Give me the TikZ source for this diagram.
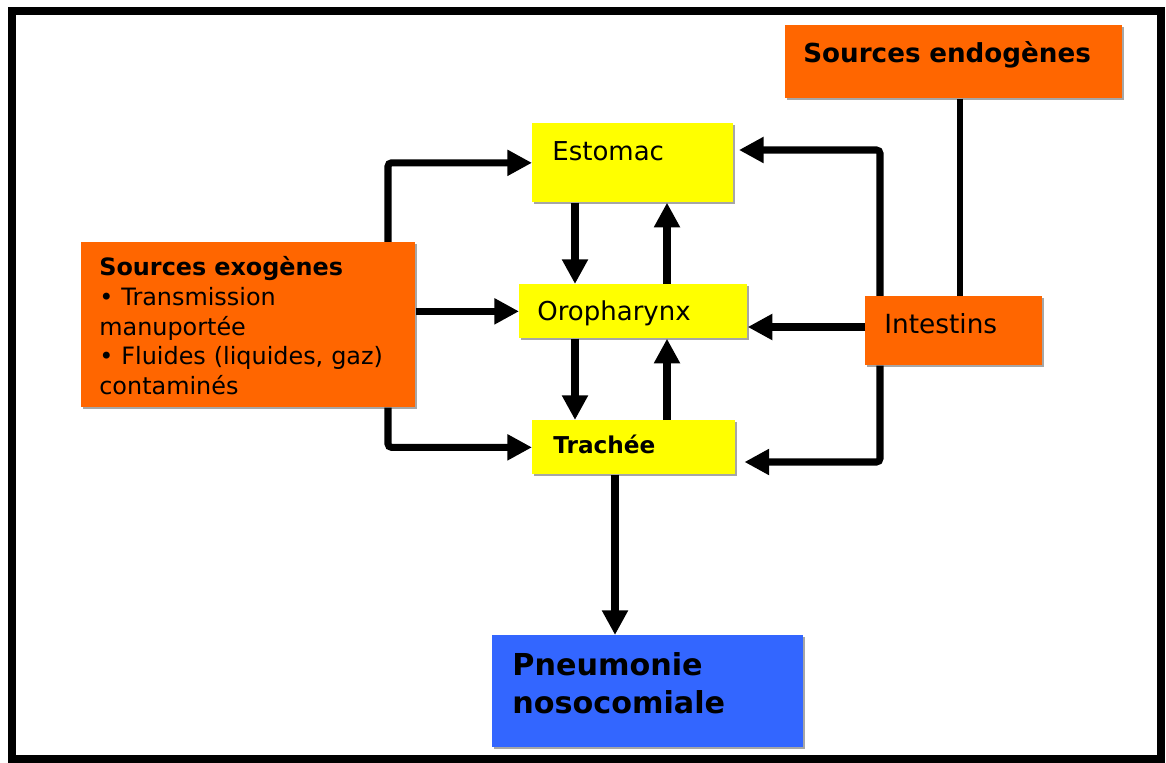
\documentclass[tikz,border=0pt]{standalone}
\usepackage{fontspec}
\setmainfont{DejaVu Sans}
\usepackage{tikz}
\usetikzlibrary{arrows.meta,shadows}

\definecolor{orangebox}{HTML}{FF6600}
\definecolor{yellowbox}{HTML}{FFFF00}
\definecolor{bluebox}{HTML}{3366FF}

\tikzset{
    box/.style={rectangle, anchor=north west, align=left, inner ysep=0pt,
        drop shadow={shadow xshift=1.2pt, shadow yshift=-1.2pt, fill=black, opacity=.35}},
    arr/.style={line width=4pt, rounded corners=2pt, -{Triangle[length=14pt,width=14pt]}},
    link/.style={line width=3pt}
}

\begin{document}
\begin{tikzpicture}[x=0.02cm, y=-0.02cm]
                \useasboundingbox (0,0) rectangle (1166,763);
                \draw[line width=4.5pt] (12,11) rectangle (1161,759);

                % boites
                \node[box, fill=orangebox, inner xsep=0.36cm, text width=6.02cm, text height=0.74cm, text depth=0.72cm,
                      font=\fontsize{14.9}{17}\selectfont\bfseries] (endo) at (785,25) {Sources endogènes};
                \node[box, fill=yellowbox, inner xsep=0.4cm, text width=3.22cm, text height=0.74cm, text depth=0.84cm,
                      font=\fontsize{14.8}{17}\selectfont] (estomac) at (532,123) {Estomac};
                \node[box, fill=yellowbox, inner xsep=0.36cm, text width=3.84cm, text height=0.72cm, text depth=0.36cm,
                      font=\fontsize{14.8}{17}\selectfont] (oro) at (519,284) {Oropharynx};
                \node[box, fill=yellowbox, inner xsep=0.42cm, text width=3.22cm, text height=0.66cm, text depth=0.42cm,
                      font=\fontsize{13.2}{16}\selectfont\bfseries] (trachee) at (532,420) {Trachée};
                \node[box, fill=orangebox, inner xsep=0.38cm, text width=2.78cm, text height=0.74cm, text depth=0.64cm,
                      font=\fontsize{15}{17}\selectfont] (intestins) at (865,296) {Intestins};
                \node[box, fill=orangebox, inner xsep=0.36cm, text width=5.96cm, text height=0.66cm, text depth=2.64cm,
                      font=\fontsize{13.6}{17}\selectfont] (exo) at (81,242)
                      {\textbf{Sources exogènes}\\• Transmission\\manuportée\\• Fluides (liquides, gaz)\\contaminés};
                \node[box, fill=bluebox, inner xsep=0.4cm, text width=5.42cm, text height=0.8cm, text depth=1.44cm,
                      font=\fontsize{17.2}{21.5}\selectfont\bfseries] (pneu) at (492,635) {Pneumonie\\nosocomiale};

                % fleches
                \draw[arr] (exo.north -| 388,0) |- (estomac.west);
                \draw[arr] (exo.east |- oro.west) -- (oro.west);
                \draw[arr] (exo.south -| 388,0) |- (trachee.west);
                \draw[arr] (estomac.south -| 575,0) -- (oro.north -| 575,0);
                \draw[arr] (oro.north -| 667,0) -- (estomac.south -| 667,0);
                \draw[arr] (oro.south -| 575,0) -- (trachee.north -| 575,0);
                \draw[arr] (trachee.north -| 667,0) -- (oro.south -| 667,0);
                \draw[arr] (intestins.west |- 0,327) -- (oro.east |- 0,327);
                \draw[arr, shorten >=3pt] (intestins.north -| 880,0) |- (estomac.east |- 0,150);
                \draw[arr, shorten >=5pt] (intestins.south -| 880,0) |- (trachee.east |- 0,462);
                \draw[link] (endo.south -| 960,0) -- (intestins.north -| 960,0);
                \draw[arr] (trachee.south -| 615,0) -- (pneu.north -| 615,0);
            \end{tikzpicture}
\end{document}
